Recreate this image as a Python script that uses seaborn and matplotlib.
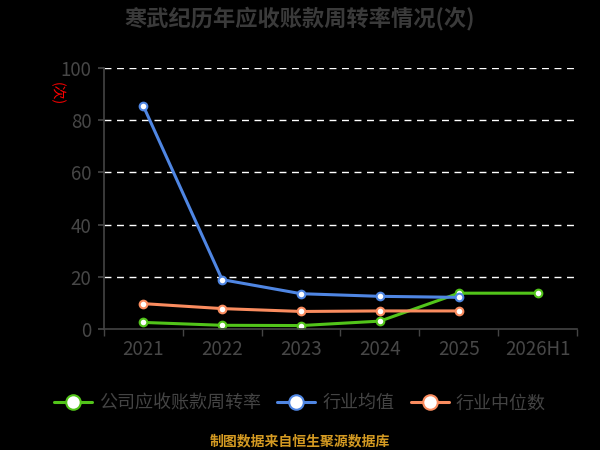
import pandas as pd
import numpy as np
import matplotlib.pyplot as plt
import seaborn as sns

# Datos
years = ['2021', '2022', '2023', '2024', '2025', '2026H1']
empresa = [2.5, 1.4, 1.3, 3.0, 13.7, 13.7]
media_sector = [85.5, 18.9, 13.5, 12.5, 12.1]
mediana_sector = [9.7, 7.8, 6.7, 6.9, 6.9]

nombres = ['公司应收账款周转率', '行业均值', '行业中位数']
colores = ['#52c41a', '#4f86e3', '#fa8c5f']

sns.set_theme(style='dark')
plt.rcParams['font.family'] = ['Noto Sans CJK SC', 'DejaVu Sans']

fig = plt.figure(figsize=(6, 4.5), dpi=100, facecolor='black')
ax = fig.add_axes([0.173, 0.269, 0.789, 0.58])
ax.set_facecolor('black')

series = [empresa, media_sector, mediana_sector]
for nombre, valores, color in zip(nombres, series, colores):
    df = pd.DataFrame({'x': np.arange(len(valores)), 'y': valores})
    sns.lineplot(data=df, x='x', y='y', ax=ax, color=color, linewidth=2.2,
                 marker='o', markersize=5.5, markerfacecolor='white',
                 markeredgecolor=color, markeredgewidth=1.5, label=nombre)

ax.set_xlim(-0.5, len(years) - 0.5)
ax.set_ylim(0, 100)
ax.set_xticks(range(len(years)))
ax.set_xticklabels(years)
ax.set_xticks(np.arange(-0.5, len(years)), minor=True)
ax.set_yticks([0, 20, 40, 60, 80, 100])
ax.tick_params(axis='x', which='major', length=0, pad=7, labelsize=13.5, labelcolor='#474747')
ax.tick_params(axis='x', which='minor', length=5, color='#444444', width=1, bottom=True)
ax.tick_params(axis='y', length=4, pad=5, color='#444444', labelsize=13.5,
               labelcolor='#474747', left=True)
ax.set_xlabel('')
ax.set_ylabel('')

ax.grid(False)
for v in [20, 40, 60, 80, 100]:
    ax.axhline(v, color='white', linestyle=(0, (5, 4)), linewidth=1, zorder=0)

for lado in ['top', 'right']:
    ax.spines[lado].set_visible(False)
for lado in ['left', 'bottom']:
    ax.spines[lado].set_color('#444444')
    ax.spines[lado].set_linewidth(1.2)

fig.text(0.095, 0.793, '(次)', color='red', fontsize=10, rotation=-90,
         ha='center', va='center')

fig.text(0.5, 0.96, '寒武纪历年应收账款周转率情况(次)', color='#3a3a3a',
         fontsize=16, fontweight='bold', ha='center', va='center')

leg = ax.legend(loc='center', bbox_to_anchor=(0.5, 0.104), bbox_transform=fig.transFigure,
                ncol=3, frameon=False, fontsize=13, handlelength=2.1,
                columnspacing=0.9, handletextpad=0.4, markerscale=1.9)
for t in leg.get_texts():
    t.set_color('#444444')

fig.text(0.5, 0.02, '制图数据来自恒生聚源数据库', color='#d49a22',
         fontsize=10, fontweight='bold', ha='center', va='center')

fig.savefig('out.png', dpi=100, facecolor='black')
